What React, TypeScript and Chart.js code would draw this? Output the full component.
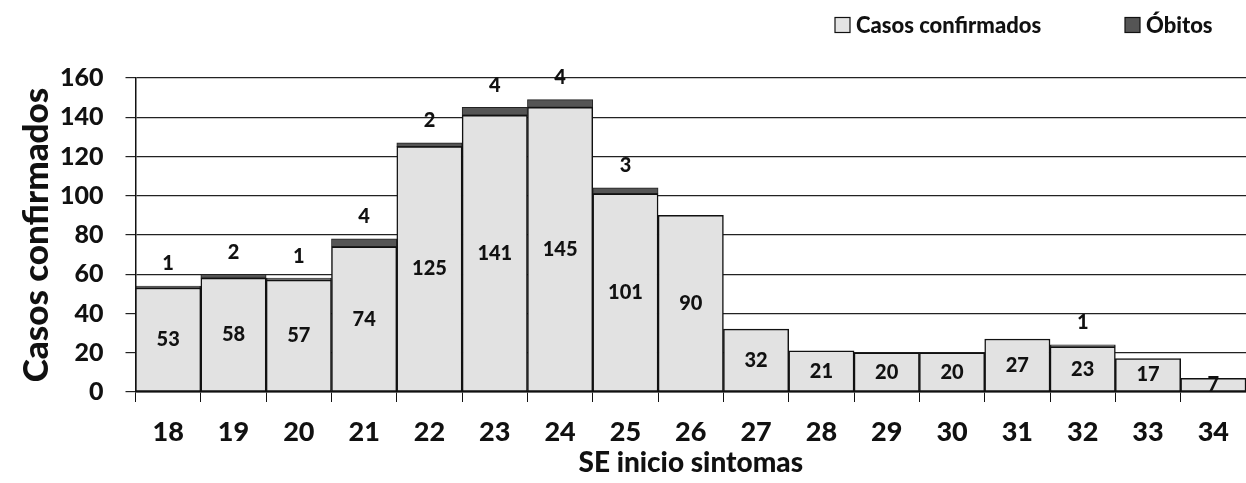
import React, { useEffect, useRef } from "react";
import { Chart, registerables } from "chart.js";

Chart.register(...registerables);

const weeks = ["18", "19", "20", "21", "22", "23", "24", "25", "26", "27", "28", "29", "30", "31", "32", "33", "34"];
const confirmed = [53, 58, 57, 74, 125, 141, 145, 101, 90, 32, 21, 20, 20, 27, 23, 17, 7];
const deaths = [1, 2, 1, 4, 2, 4, 4, 3, 0, 0, 0, 0, 0, 0, 1, 0, 0];
const yTicks = [0, 20, 40, 60, 80, 100, 120, 140, 160];

const FONT = "Lato, 'Open Sans', sans-serif";
const W = "900";

const labelPlugin = {
  id: "barLabels",
  afterDatasetsDraw(chart: any) {
    const ctx = chart.ctx;
    const m0 = chart.getDatasetMeta(0);
    const m1 = chart.getDatasetMeta(1);
    ctx.save();
    ctx.fillStyle = "#111";
    ctx.textAlign = "center";
    ctx.textBaseline = "middle";
    ctx.font = `${W} 20px ${FONT}`;
    m0.data.forEach((bar: any, i: number) => {
      const y = (bar.y + bar.base) / 2;
      ctx.fillText(String(confirmed[i]), bar.x, y);
    });
    ctx.textBaseline = "bottom";
    m1.data.forEach((bar: any, i: number) => {
      if (deaths[i] > 0) {
        ctx.fillText(String(deaths[i]), bar.x, bar.y - 12);
      }
    });
    ctx.restore();
  },
};

const legendPlugin = {
  id: "customLegend",
  afterDraw(chart: any) {
    const ctx = chart.ctx;
    ctx.save();
    ctx.font = `${W} 22px ${FONT}`;
    ctx.textBaseline = "middle";
    ctx.textAlign = "left";
    const items = [
      { text: "Casos confirmados", fill: "#e4e4e4", x: 835 },
      { text: "Óbitos", fill: "#555555", x: 1125 },
    ];
    const y = 25;
    items.forEach((it) => {
      ctx.fillStyle = it.fill;
      ctx.fillRect(it.x, y - 7.5, 15, 15);
      ctx.strokeStyle = "#111";
      ctx.lineWidth = 1.2;
      ctx.strokeRect(it.x, y - 7.5, 15, 15);
      ctx.fillStyle = "#111";
      ctx.fillText(it.text, it.x + 21, y + 1);
    });
    ctx.restore();
  },
};

export default function App() {
  const ref = useRef<HTMLCanvasElement>(null);
  useEffect(() => {
    document.body.style.margin = "0";
    const chart = new Chart(ref.current!, {
      type: "bar",
      data: {
        labels: weeks,
        datasets: [
          {
            label: "Casos confirmados",
            data: confirmed,
            backgroundColor: "#e2e2e2",
            borderColor: "#111",
            borderWidth: 1.5,
            borderSkipped: false,
            categoryPercentage: 1,
            barPercentage: 1,
          },
          {
            label: "Óbitos",
            data: deaths,
            backgroundColor: "#555555",
            borderColor: "#222",
            borderWidth: 1,
            borderSkipped: false,
            categoryPercentage: 1,
            barPercentage: 1,
          },
        ],
      },
      options: {
        animation: false,
        responsive: false,
        maintainAspectRatio: false,
        layout: { padding: { top: 78, left: 4, right: 0, bottom: 3 } },
        plugins: { legend: { display: false }, tooltip: { enabled: false } },
        scales: {
          x: {
            stacked: true,
            grid: { display: true, drawOnChartArea: false, color: "#111", tickLength: 10, offset: true },
            border: { display: true, color: "#111", width: 1.5 },
            ticks: { color: "#111", font: { family: FONT, size: 27, weight: W }, padding: 14, maxRotation: 0 },
            title: {
              display: true,
              text: "SE inicio sintomas",
              color: "#111",
              font: { family: FONT, size: 28, weight: W },
              padding: { top: -16, bottom: 0 },
            },
          },
          y: {
            stacked: true,
            min: 0,
            max: 160,
            afterBuildTicks: (axis: any) => {
              axis.ticks = yTicks.map((v) => ({ value: v }));
            },
            grid: { color: "#222", lineWidth: 1.2, tickLength: 10 },
            border: { display: true, color: "#111", width: 1.5 },
            ticks: { color: "#111", font: { family: FONT, size: 25, weight: W }, padding: 22 },
            title: {
              display: true,
              text: "Casos confirmados",
              color: "#111",
              font: { family: FONT, size: 35, weight: W },
              padding: { top: 12, bottom: -20 },
            },
          },
        },
      },
      plugins: [labelPlugin, legendPlugin],
    });
    return () => chart.destroy();
  }, []);
  return <canvas ref={ref} width={1246} height={483} style={{ display: "block" }} />;
}
